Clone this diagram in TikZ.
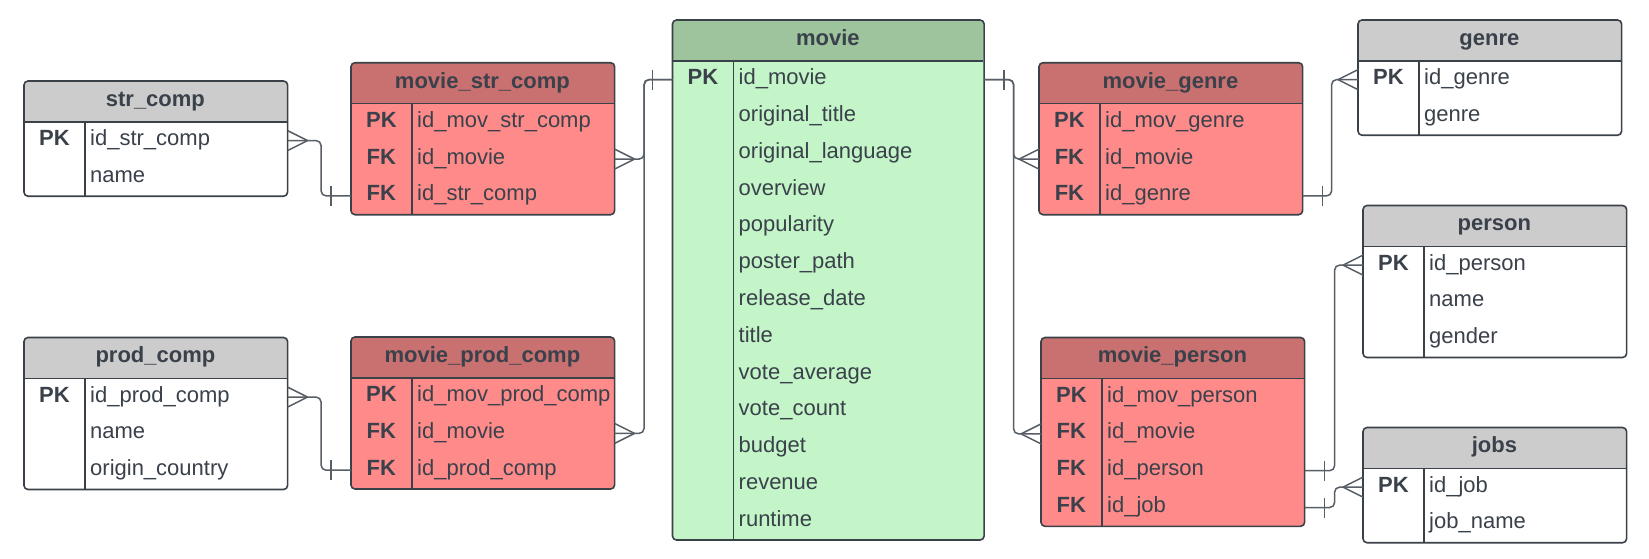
\documentclass[tikz,border=0pt]{standalone}
\usepackage{fontspec}
\setmainfont{Liberation Sans}
\usepackage{tikz}
\usetikzlibrary{positioning, calc, backgrounds}

\definecolor{grayhd}{RGB}{204,204,204}
\definecolor{redhd}{RGB}{201,112,112}
\definecolor{redbd}{RGB}{255,138,138}
\definecolor{greenhd}{RGB}{157,196,157}
\definecolor{greenbd}{RGB}{195,245,200}
\definecolor{linecol}{RGB}{59,65,72}
\definecolor{linkcol}{RGB}{88,94,102}
\definecolor{textcol}{RGB}{58,65,74}

\tikzset{
	crowfoot/.pic={\draw[draw=linkcol, line width=0.75pt] (-20,0) -- (0,-10) (-20,0) -- (0,10);},
	onebar/.pic={\draw[draw=linkcol, line width=0.75pt] (-20,-10) -- (-20,10);}
}

\begin{document}
\begin{tikzpicture}[x=0.5pt, y=-0.5pt, text=textcol, font=\fontsize{11}{13}\selectfont]
		\tikzstyle{tablehead} = [rectangle, anchor=north west, minimum width=131pt, minimum height=20pt, inner sep=0pt, text height=8pt, text depth=3pt, font=\fontsize{11}{13}\selectfont\bfseries]
		
		\tikzstyle{keycell} = [rectangle, anchor=north west, minimum width=30pt, minimum height=18.4pt, inner sep=0pt, text height=8pt, text depth=3pt, font=\fontsize{11}{13}\selectfont\bfseries]
		
		\tikzstyle{fieldcell} = [rectangle, minimum height=18.4pt, inner xsep=2.5pt, inner ysep=0pt, text width=96pt, align=left, text height=8pt, text depth=3pt]
		
		\tikzstyle{tableframe} = [draw=linecol, line width=0.8pt, rounded corners=2pt]
		
		\tikzstyle{relation} = [draw=linkcol, line width=0.75pt, rounded corners=2.5pt]
		
		\useasboundingbox (0,0) rectangle (1649,558);
		
		% Tables on the left
		\node (sc) [tablehead] at (24,81) {str\_comp};
		\foreach \kc/\fc [count=\i] in {PK/id\_str\_comp,/name}
		{\node (sc-k\i) [keycell] at ($(sc.south west)+(0,{(\i-1)*36.8})$) {\kc};
		 \node (sc-f\i) [fieldcell, right=0pt of sc-k\i] {\fc};}
		
		\node (pc) [tablehead] at (24,337.5) {prod\_comp};
		\foreach \kc/\fc [count=\i] in {PK/id\_prod\_comp,/name,/origin\_country}
		{\node (pc-k\i) [keycell] at ($(pc.south west)+(0,{(\i-1)*36.8})$) {\kc};
		 \node (pc-f\i) [fieldcell, right=0pt of pc-k\i] {\fc};}
		
		\node (msc) [tablehead] at (351,62.7) {movie\_str\_comp};
		\foreach \kc/\fc [count=\i] in {PK/id\_mov\_str\_comp,FK/id\_movie,FK/id\_str\_comp}
		{\node (msc-k\i) [keycell] at ($(msc.south west)+(0,{(\i-1)*36.8})$) {\kc};
		 \node (msc-f\i) [fieldcell, right=0pt of msc-k\i] {\fc};}
		
		\node (mpc) [tablehead] at (351,337) {movie\_prod\_comp};
		\foreach \kc/\fc [count=\i] in {PK/id\_mov\_prod\_comp,FK/id\_movie,FK/id\_prod\_comp}
		{\node (mpc-k\i) [keycell] at ($(mpc.south west)+(0,{(\i-1)*36.8})$) {\kc};
		 \node (mpc-f\i) [fieldcell, right=0pt of mpc-k\i] {\fc};}
		
		% Movie table
		\node (mv) [tablehead, minimum width=155pt] at (672.5,20) {movie};
		\foreach \kc/\fc [count=\i] in {PK/id\_movie,/original\_title,/original\_language,/overview,/popularity,/poster\_path,/release\_date,/title,/vote\_average,/vote\_count,/budget,/revenue,/runtime}
		{\node (mv-k\i) [keycell] at ($(mv.south west)+(0,{(\i-1)*36.8})$) {\kc};
		 \node (mv-f\i) [fieldcell, text width=120pt, right=0pt of mv-k\i] {\fc};}
		
		% Tables on the right
		\node (mg) [tablehead] at (1039,62.7) {movie\_genre};
		\foreach \kc/\fc [count=\i] in {PK/id\_mov\_genre,FK/id\_movie,FK/id\_genre}
		{\node (mg-k\i) [keycell] at ($(mg.south west)+(0,{(\i-1)*36.8})$) {\kc};
		 \node (mg-f\i) [fieldcell, right=0pt of mg-k\i] {\fc};}
		
		\node (mp) [tablehead] at (1041,337.5) {movie\_person};
		\foreach \kc/\fc [count=\i] in {PK/id\_mov\_person,FK/id\_movie,FK/id\_person,FK/id\_job}
		{\node (mp-k\i) [keycell] at ($(mp.south west)+(0,{(\i-1)*36.8})$) {\kc};
		 \node (mp-f\i) [fieldcell, right=0pt of mp-k\i] {\fc};}
		
		\node (gn) [tablehead] at (1358,20) {genre};
		\foreach \kc/\fc [count=\i] in {PK/id\_genre,/genre}
		{\node (gn-k\i) [keycell] at ($(gn.south west)+(0,{(\i-1)*36.8})$) {\kc};
		 \node (gn-f\i) [fieldcell, right=0pt of gn-k\i] {\fc};}
		
		\node (ps) [tablehead] at (1363,205.5) {person};
		\foreach \kc/\fc [count=\i] in {PK/id\_person,/name,/gender}
		{\node (ps-k\i) [keycell] at ($(ps.south west)+(0,{(\i-1)*36.8})$) {\kc};
		 \node (ps-f\i) [fieldcell, right=0pt of ps-k\i] {\fc};}
		
		\node (jb) [tablehead] at (1363,427.5) {jobs};
		\foreach \kc/\fc [count=\i] in {PK/id\_job,/job\_name}
		{\node (jb-k\i) [keycell] at ($(jb.south west)+(0,{(\i-1)*36.8})$) {\kc};
		 \node (jb-f\i) [fieldcell, right=0pt of jb-k\i] {\fc};}
		
		% Fills and frames of the tables
		\foreach \tb/\nr/\hc/\bc in {sc/2/grayhd/white,pc/3/grayhd/white,msc/3/redhd/redbd,mpc/3/redhd/redbd,mv/13/greenhd/greenbd,mg/3/redhd/redbd,mp/4/redhd/redbd,gn/2/grayhd/white,ps/3/grayhd/white,jb/2/grayhd/white}
		{\begin{scope}[on background layer]
			\fill[fill=\bc, rounded corners=2pt] (\tb.north west) rectangle (\tb-f\nr.south east);
			\fill[fill=\hc, rounded corners=2pt] (\tb.north west) rectangle (\tb.south east);
			\fill[fill=\hc] (\tb.west) rectangle (\tb.south east);
		 \end{scope}
		 \draw[tableframe] (\tb.north west) rectangle (\tb-f\nr.south east);
		 \draw[tableframe, sharp corners] (\tb.south west) -- (\tb.south east) (\tb-k1.north east) -- (\tb-k\nr.south east);}
		
		% Relations
		\draw[relation] (sc-f1.east) -- ++(33.5,0) |- (msc-k3.west);
		\draw[relation] (msc-f2.east) -- ++(29.5,0) |- (mv-k1.west);
		\draw[relation] (pc-f1.east) -- ++(33.5,0) |- (mpc-k3.west);
		\draw[relation] (mpc-f2.east) -- ++(29.5,0) |- (mv-k1.west);
		\draw[relation] (mv-f1.east) -- ++(29.5,0) |- (mg-k2.west);
		\draw[relation] (mv-f1.east) -- ++(29.5,0) |- (mp-k2.west);
		\draw[relation] (mg-f3.east) -- ++(29,0) |- (gn-k1.west);
		\draw[relation] (mp-f3.east) -- ++(30,0) |- (ps-k1.west);
		\draw[relation] (mp-f4.east) -- ++(30,0) |- (jb-k1.west);
		
		% Crow's feet (many) and bars (one)
		\foreach \e in {sc-f1,pc-f1,msc-f2,mpc-f2} {\pic[xscale=-1] at (\e.east) {crowfoot};}
		\foreach \e in {mg-k2,mp-k2,gn-k1,ps-k1,jb-k1} {\pic at (\e.west) {crowfoot};}
		\foreach \e in {msc-k3,mpc-k3,mv-k1} {\pic at (\e.west) {onebar};}
		\foreach \e in {mv-f1,mg-f3,mp-f3,mp-f4} {\pic[xscale=-1] at (\e.east) {onebar};}
\end{tikzpicture}
\end{document}
